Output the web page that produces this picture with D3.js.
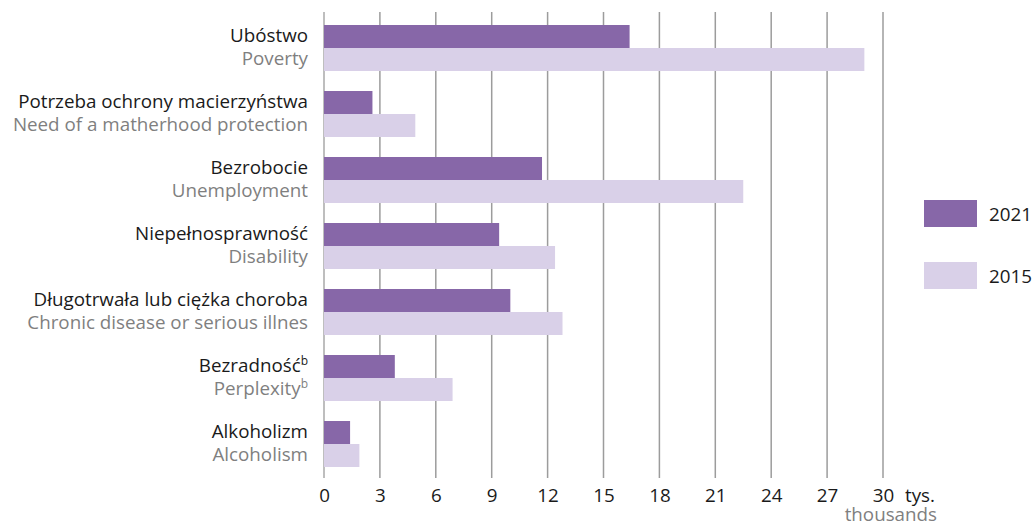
<!DOCTYPE html>
<html><head><meta charset="utf-8">
<script src="https://cdn.jsdelivr.net/npm/d3@7"></script>
<style>body{margin:0;background:#fff}svg{display:block}text{font-family:"Open Sans",sans-serif}</style>
</head><body><svg id="c" width="1033" height="525"></svg>
<script>
const categoriesPL = ["Ubóstwo","Potrzeba ochrony macierzyństwa","Bezrobocie","Niepełnosprawność","Długotrwała lub ciężka choroba","Bezradność","Alkoholizm"];
const categoriesEN = ["Poverty","Need of a matherhood protection","Unemployment","Disability","Chronic disease or serious illnes","Perplexity","Alcoholism"];
const footnote = [null,null,null,null,null,"b",null];
const series = ["2021","2015"];
const values2021 = [16.4,2.6,11.7,9.4,10.0,3.8,1.4];
const values2015 = [29.0,4.9,22.5,12.4,12.8,6.9,1.9];
const ticks = [0,3,6,9,12,15,18,21,24,27,30];
const unitPL = "tys.", unitEN = "thousands";
const colors = {"2021":"#8767a8","2015":"#d9d0e8"};

const FS = 18.8;
const svg = d3.select("#c");
const x = d3.scaleLinear().domain([0,30]).range([324,883]);
const y = d3.scaleBand().domain(d3.range(categoriesPL.length)).range([15,477]).paddingInner(20/66).paddingOuter(10/66);
const ys = d3.scaleBand().domain(series).range([0,y.bandwidth()]);

// grid lines
svg.append("g").selectAll("line").data(ticks).join("line")
  .attr("x1",d=>x(d)).attr("x2",d=>x(d)).attr("y1",12).attr("y2",478)
  .attr("stroke",d=>d===0?"#a8a8a8":"#9c9c9c").attr("stroke-width",1.5);

// bars
const vals = {"2021":values2021,"2015":values2015};
series.forEach(s=>{
  svg.append("g").selectAll("rect").data(vals[s]).join("rect")
    .attr("x",x(0)).attr("y",(d,i)=>y(i)+ys(s))
    .attr("width",d=>x(d)-x(0)).attr("height",ys.bandwidth())
    .attr("fill",colors[s]);
});

// category labels
const lab = svg.append("g");
categoriesPL.forEach((c,i)=>{
  const t1 = lab.append("text").attr("x",308).attr("y",y(i)+ys("2021")+ys.bandwidth()/2+5.5)
    .attr("text-anchor","end").attr("font-size",FS).attr("fill","#1a1a1a").text(c);
  const t2 = lab.append("text").attr("x",308).attr("y",y(i)+ys("2015")+ys.bandwidth()/2+5.5)
    .attr("text-anchor","end").attr("font-size",FS).attr("fill","#7f7f7f").text(categoriesEN[i]);
  if(footnote[i]){
    [t1,t2].forEach(t=>t.append("tspan").attr("font-size",12).attr("dy",-7).text(footnote[i]));
  }
});

// x axis labels
const ax = d3.axisBottom(x).tickValues(ticks).tickSize(0).tickPadding(0);
const g = svg.append("g").attr("transform","translate(0,488)").call(ax);
g.select(".domain").remove();
g.selectAll("text").attr("font-size",FS).attr("fill","#1a1a1a").attr("dy","0.74em").style("font-family","'Open Sans',sans-serif");
svg.append("text").attr("x",905).attr("y",502).attr("font-size",FS).attr("fill","#1a1a1a").text(unitPL);
svg.append("text").attr("x",937).attr("y",521).attr("text-anchor","end").attr("font-size",FS).attr("fill","#7f7f7f").text(unitEN);

// legend
const lg = svg.append("g");
series.forEach((s,i)=>{
  lg.append("rect").attr("x",924).attr("y",200+i*62).attr("width",53).attr("height",27).attr("fill",colors[s]);
  lg.append("text").attr("x",989).attr("y",221+i*62).attr("font-size",FS).attr("fill","#1a1a1a").text(s);
});
</script></body></html>
